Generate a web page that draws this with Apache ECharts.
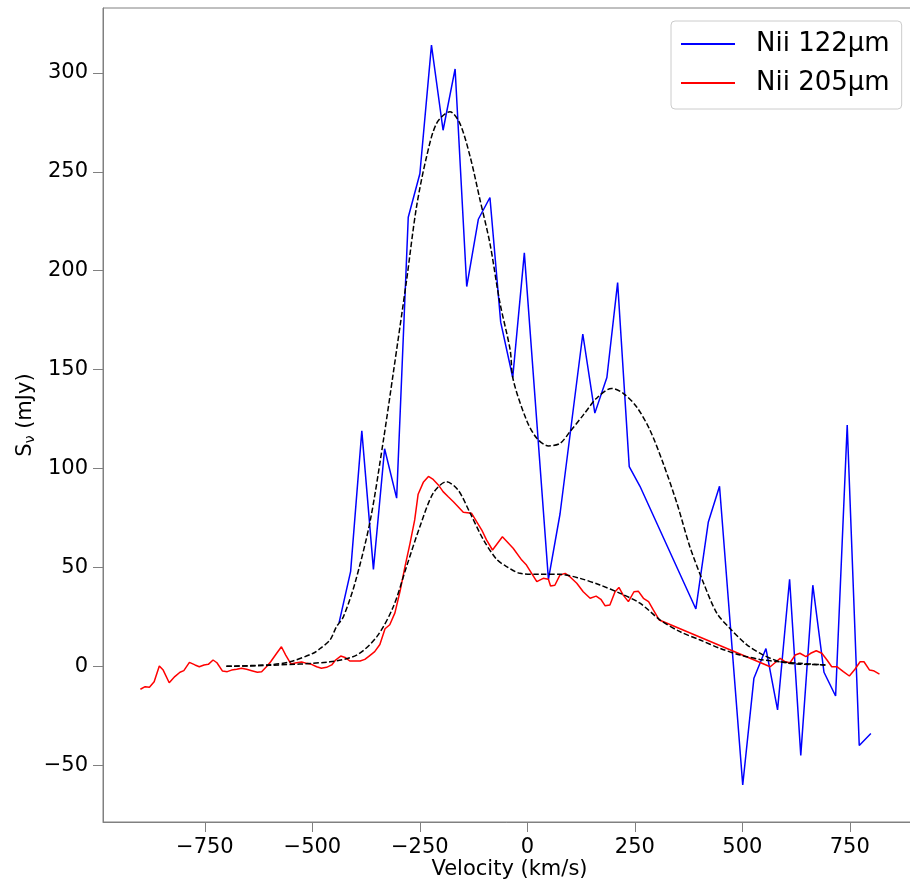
<!DOCTYPE html>
<html>
<head>
<meta charset="utf-8">
<script src="https://cdn.jsdelivr.net/npm/echarts@6/dist/echarts.min.js"></script>
<style>html,body{margin:0;padding:0;background:#fff}#c{width:910px;height:882px}</style>
</head>
<body>
<div id="c"></div>
<script>
// ---- data ----
const seriesNames = ['Nii 122\u03bcm', 'Nii 205\u03bcm'];
const xTicks = [-750, -500, -250, 0, 250, 500, 750];
const yTicks = [-50, 0, 50, 100, 150, 200, 250, 300];

const v122 = [-438,-411,-385,-358,-332,-304,-277,-250,-223,-196,-168,-141,-114,-87,-62,-34,-7,49,76,129,157,185,210,237,262,392,421,447,501,527,555,582,610,636,664,690,717,744,772,799];
const s122 = [22,48,119,49,110,85,227,249,314,271,302,192,226,237,174,146,209,44,77,168,128,146,194,101,91,29,73,91,-60,-6,9,-22,44,-45,41,-3,-15,122,-40,-34];

const v205 = [-900,-889,-879,-868,-856,-847,-833,-820,-808,-799,-786,-773,-763,-752,-742,-731,-722,-709,-698,-688,-676,-665,-653,-641,-628,-618,-608,-597,-583,-572,-562,-550,-537,-525,-513,-502,-490,-479,-467,-455,-446,-434,-424,-413,-401,-389,-378,-368,-355,-343,-331,-320,-308,-296,-285,-273,-262,-254,-242,-230,-219,-207,-196,-184,-172,-161,-149,-130,-118,-106,-95,-81,-58,-33,-13,-2,10,22,37,49,54,64,76,88,99,115,130,146,160,171,181,192,204,213,223,235,248,258,270,282,293,307,565,576,588,600,611,623,634,648,659,672,685,697,708,720,735,749,762,774,783,796,805,819];
const s205 = [-11.6,-10.3,-10.6,-7.8,0.2,-1.9,-8.3,-5.2,-3,-2.2,2,0.7,-0.2,0.7,1,3.2,1.8,-2.4,-2.7,-1.9,-1.5,-1,-1.5,-2.2,-3,-2.7,-0.5,2.3,6.6,9.9,5.7,1.2,1.8,2.2,1.5,1,-0.2,-1,-0.5,0.7,3.2,5.2,4.5,2.7,2.7,2.7,3.5,5.2,7.4,11,19,21,27,38,50,62,74,87,93,96,94.5,91.7,88.3,85.7,83.2,80.7,77.9,77.4,73.1,68.9,63.9,58.8,65.5,59.7,53.7,51.2,47,42.8,44.5,44,40.6,41,46.2,47,45.3,42,37.7,34.4,35.5,33.9,30.6,31,37.7,39.9,36,32.7,37.7,38,34.4,32.7,28.5,23.4,-0.2,1.8,4,2.3,1.8,5.7,6.6,4.9,6.6,7.9,6.6,3.2,-0.2,-0.2,-2.7,-4.9,-1.5,2.3,2.3,-1.9,-2.2,-3.9];

const vFit122 = [-700,-600,-552,-498,-482,-459,-444,-428,-401,-366,-335,-312,-281,-258,-234,-211,-180,-157,-133,-110,-87,-64,-40,-33,-2,22,49,76,99,130,161,196,223,254,285,316,348,378,410,441,472,510,549,588,627,697];
const sFit122 = [0,0.8,2.3,6.6,9,13.3,20,25,42,73,114,148,195,232,258,274.5,280.4,274.5,257.6,235.7,213.8,184,160,145,124.5,115.3,111.4,112.7,118.6,127,135.5,140.5,138,131.2,119.5,102.6,82.4,60.5,42,26.8,19,11,5.7,2.3,1.2,0.7];

const vFit205 = [-700,-600,-459,-397,-350,-312,-281,-250,-219,-188,-161,-133,-102,-71,-48,-17,29,76,122,169,216,262,309,355,402,448,495,541,588,634,693];
const sFit205 = [0,0.5,2.3,5.7,15,30,50.4,70.6,87.5,93.3,89.1,77.4,63.9,54,50.4,47,46.5,46.5,44.5,41.1,36.9,31.9,23.4,17.5,13.3,9.1,5.7,3.5,2.3,1.5,0.7];

const pairs = (xs, ys) => xs.map((x, i) => [x, ys[i]]);
const FONT = 'DejaVu Sans';
const axisGray = '#808080';
const fmt = v => (v < 0 ? '\u2212' + Math.abs(v) : String(v));

const chart = echarts.init(document.getElementById('c'), null, {renderer: 'canvas'});
chart.setOption({
  animation: false,
  backgroundColor: '#fff',
  grid: {left: 103, top: 8, width: 813, height: 814, show: true, borderColor: axisGray, borderWidth: 1,
    containLabel: false, outerBoundsMode: 'none'},
  legend: {
    data: seriesNames,
    orient: 'vertical',
    left: 671, top: 21,
    padding: [10, 12, 13, 10],
    itemGap: 13,
    itemWidth: 54, itemHeight: 2,
    icon: 'rect',
    backgroundColor: 'rgba(255,255,255,0.8)',
    borderColor: '#cccccc', borderWidth: 1, borderRadius: 4,
    textStyle: {fontFamily: FONT, fontSize: 26, color: '#000', padding: [0, 0, 0, 16], lineHeight: 26}
  },
  xAxis: {
    type: 'value', min: -987, max: 904,
    name: 'Velocity (km/s)', nameLocation: 'middle', nameGap: 37, nameMoveOverlap: false,
    nameTextStyle: {fontFamily: FONT, fontSize: 21, color: '#000'},
    splitLine: {show: false},
    axisLine: {show: true, onZero: false, lineStyle: {color: axisGray, width: 1}},
    axisTick: {show: true, length: 10, lineStyle: {color: axisGray}, customValues: xTicks},
    axisLabel: {fontFamily: FONT, fontSize: 21, color: '#000', margin: 15, customValues: xTicks, formatter: fmt}
  },
  yAxis: {
    type: 'value', min: -78.7, max: 332.8,
    name: '{m|S}{sub|\u03bd}{m| (mJy)}', nameLocation: 'middle', nameGap: 66, nameRotate: 90, nameMoveOverlap: false,
    nameTextStyle: {fontFamily: FONT, fontSize: 21, color: '#000',
      rich: {m: {fontFamily: FONT, fontSize: 21, color: '#000'},
             sub: {fontFamily: FONT, fontSize: 14, color: '#000', verticalAlign: 'bottom', padding: [8, 0, 0, 0]}}},
    splitLine: {show: false},
    axisLine: {show: true, onZero: false, lineStyle: {color: axisGray, width: 1}},
    axisTick: {show: true, length: 10, lineStyle: {color: axisGray}, customValues: yTicks},
    axisLabel: {fontFamily: FONT, fontSize: 21, color: '#000', margin: 15, customValues: yTicks, formatter: fmt}
  },
  series: [
    {name: seriesNames[0], type: 'line', data: pairs(v122, s122), showSymbol: false, symbol: 'none',
      lineStyle: {color: '#0000ff', width: 1.5}, itemStyle: {color: '#0000ff'}, z: 2},
    {name: seriesNames[1], type: 'line', data: pairs(v205, s205), showSymbol: false, symbol: 'none',
      lineStyle: {color: '#ff0000', width: 1.5}, itemStyle: {color: '#ff0000'}, z: 2},
    {name: 'fit122', type: 'line', data: pairs(vFit122, sFit122), showSymbol: false, symbol: 'none', smooth: 0.3,
      lineStyle: {color: '#000', width: 1.5, type: [5.5, 2.4]}, z: 3},
    {name: 'fit205', type: 'line', data: pairs(vFit205, sFit205), showSymbol: false, symbol: 'none', smooth: 0.3,
      lineStyle: {color: '#000', width: 1.5, type: [5.5, 2.4]}, z: 3}
  ]
});
</script>
</body>
</html>
